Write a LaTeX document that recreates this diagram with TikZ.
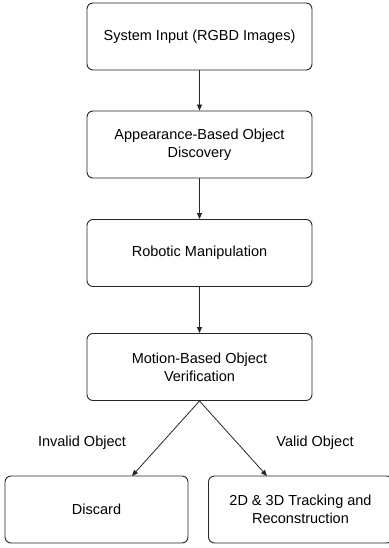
\documentclass[tikz,border=0pt]{standalone}
\usepackage{fontspec}
\setmainfont{Liberation Sans}
\usetikzlibrary{arrows.meta}
\begin{document}
\begin{tikzpicture}[x=1pt,y=-1pt,
  stagebox/.style={draw=black!85, line width=0.9pt, rounded corners=6pt,
    minimum height=67pt, align=center, inner sep=0pt,
    font=\fontsize{14.5}{18}\selectfont},
  flow/.style={draw=black!85, line width=0.8pt,
    -{Triangle[length=6pt,width=5pt]}},
  lbl/.style={font=\fontsize{14.5}{18}\selectfont}]
  \useasboundingbox (0,0) rectangle (388,548);
  \node[stagebox, minimum width=225pt] (input) at (199.5,36.5) {System Input (RGBD Images)};
  \node[stagebox, minimum width=225pt] (disc) at (199.5,144.5) {Appearance-Based Object\\Discovery};
  \node[stagebox, minimum width=225pt] (manip) at (199.5,253) {Robotic Manipulation};
  \node[stagebox, minimum width=225pt] (verif) at (199.5,367) {Motion-Based Object\\Verification};
  \node[stagebox, minimum width=183pt] (discard) at (96.5,509.5) {Discard};
  \node[stagebox, minimum width=184pt] (track) at (300.5,509.5) {2D \& 3D Tracking and\\Reconstruction};
  \coordinate (dL) at (132,476);
  \coordinate (dR) at (267,476);
  \draw[flow] (input) -- (disc);
  \draw[flow] (disc) -- (manip);
  \draw[flow] (manip) -- (verif);
  \draw[flow] (verif.south) -- (dL);
  \draw[flow] (verif.south) -- (dR);
  \node[lbl] (inv) at (82,443) {Invalid Object};
  \node[lbl] (val) at (315,443) {Valid Object};
\end{tikzpicture}
\end{document}
